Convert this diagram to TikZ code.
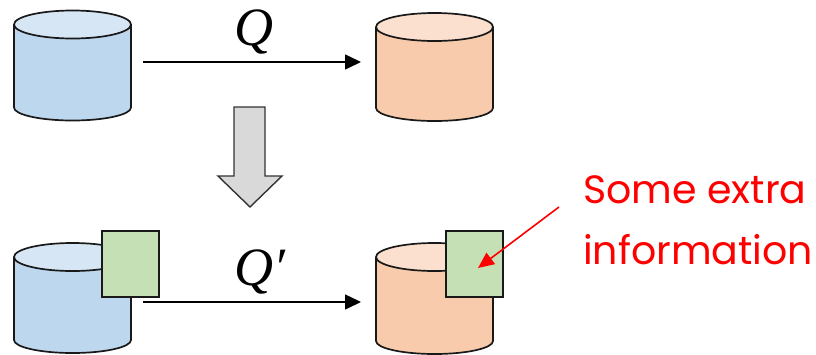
\documentclass[tikz,border=0pt]{standalone}
\usepackage{fontspec}
\setmainfont{Poppins}
\newfontfamily\qfont{Liberation Serif}
\usetikzlibrary{arrows.meta}
\definecolor{dbblue}{HTML}{BDD7EE}
\definecolor{dbbluetop}{HTML}{D6E6F5}
\definecolor{dborange}{HTML}{F8CBAD}
\definecolor{dborangetop}{HTML}{FBE0D0}
\definecolor{extragreen}{HTML}{C5E0B4}
\definecolor{blockgray}{HTML}{D9D9D9}
\newcommand{\dbcyl}[5]{% left x, top-centre y, bottom-edge y, body, lid
  \fill[#4] (#1,#2) -- (#1,#3) arc[start angle=180,end angle=0,x radius=58.5,y radius=13] -- (#1+117,#2) -- cycle;
  \draw[outl] (#1,#2) -- (#1,#3) arc[start angle=180,end angle=0,x radius=58.5,y radius=13] -- (#1+117,#2);
  \draw[outl,fill=#5] (#1+58.5,#2) ellipse[x radius=58.5,y radius=14];
}
\tikzset{
  outl/.style={line width=1.7pt,draw=black!90},
  extrabox/.style={draw=black!90,line width=1.7pt,fill=extragreen,minimum width=57pt,minimum height=66pt,inner sep=0pt},
  flow/.style={line width=1.6pt,draw=black,-{Triangle[length=16pt,width=15pt]}},
  qlabel/.style={font=\fontsize{54}{54}\selectfont\qfont\itshape,inner sep=0pt,anchor=base west},
  redtext/.style={text=red,font=\fontsize{39.5}{40}\selectfont,inner sep=0pt,anchor=west},
}
\begin{document}
\begin{tikzpicture}[x=1pt,y=-1pt]
\useasboundingbox (0,0) rectangle (816,354);
\dbcyl{14}{24.5}{107.5}{dbblue}{dbbluetop}
\dbcyl{376}{27}{108}{dborange}{dborangetop}
\dbcyl{14}{257}{340}{dbblue}{dbbluetop}
\dbcyl{376}{257}{341}{dborange}{dborangetop}
\node[extrabox] (boxa) at (130.5,264) {};
\node[extrabox] (boxb) at (474.5,264) {};
\coordinate (q1s) at (143,62);
\coordinate (q1e) at (361,62);
\coordinate (q2s) at (143,302);
\coordinate (q2e) at (361,302);
\draw[flow] (q1s) -- (q1e);
\draw[flow] (q2s) -- (q2e);
\node[qlabel] (q) at (234,45) {Q};
\node[qlabel] (qp) at (234,285) {Q′};
\draw[line width=1.4pt,draw=black!80,fill=blockgray] (234,107) -- (265,107) -- (265,176) -- (282,176) -- (250,207) -- (218,176) -- (234,176) -- cycle;
\node[redtext] (some) at (583,190) {Some extra};
\node[redtext] (info) at (583,250) {information};
\coordinate (rs) at (559,207);
\coordinate (re) at (478,268);
\draw[line width=1.6pt,draw=red,-{Triangle[length=16pt,width=14pt]}] (rs) -- (re);
\end{tikzpicture}
\end{document}
